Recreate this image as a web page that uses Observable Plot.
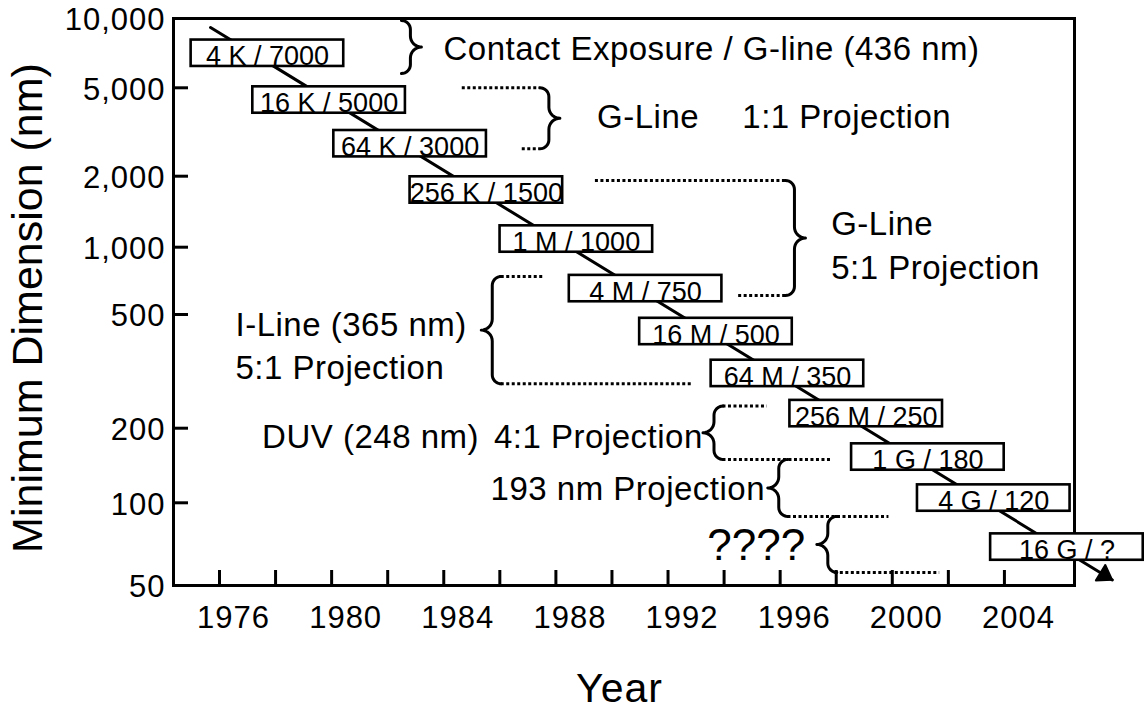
<!DOCTYPE html>
<html>
<head>
<meta charset="utf-8">
<script src="https://cdn.jsdelivr.net/npm/d3@7"></script>
<script src="https://cdn.jsdelivr.net/npm/@observablehq/plot@0.6"></script>
<style>
  html, body { margin: 0; padding: 0; background: #fff; }
  #chart { width: 1144px; height: 713px; }
</style>
</head>
<body>
<div id="chart"></div>
<script>
// ---------------- data ----------------
const xTickYears  = [1976, 1978, 1980, 1982, 1984, 1986, 1988, 1990, 1992, 1994, 1996, 1998, 2000, 2002, 2004];
const xLabelYears = [1976, 1980, 1984, 1988, 1992, 1996, 2000, 2004];
const yTickValues = [50, 100, 200, 500, 1000, 2000, 5000, 10000];

// DRAM generations (box labels) and where each box sits
const generations = ["4 K", "16 K", "64 K", "256 K", "1 M", "4 M", "16 M", "64 M", "256 M", "1 G", "4 G", "16 G"];
const dimensions  = ["7000", "5000", "3000", "1500", "1000", "750", "500", "350", "250", "180", "120", "?"];
const boxYear = [1977.71, 1979.91, 1982.80, 1985.52, 1988.73, 1991.20, 1993.71, 1996.26, 1999.07, 2001.27, 2003.62, 2006.23];
const boxNm   = [7064, 4405, 2801, 1748, 1083, 653, 436, 311, 225, 153, 104.5, 69];

// trend line (start and arrow tip)
const trendYear = [1975.68, 2007.85];
const trendNm   = [9140, 52.4];

// brackets: spine year, span top / bottom (nm), side of the tip
const braceName     = ["Contact", "G-Line 1:1", "G-Line 5:1", "I-Line", "DUV", "193 nm", "????"];
const braceYear     = [1982.81, 1987.75, 1996.51, 1985.73, 1993.64, 1995.95, 1997.70];
const braceTopNm    = [9802, 5000, 1918, 740, 239, 149.6, 89.2];
const braceBottomNm = [5767, 2657, 608, 286, 149.6, 89.2, 55.8];
const braceSide     = ["right", "right", "right", "left", "left", "left", "left"];

// dotted guide lines
const guideStartYear = [1984.66, 1986.80, 1989.41, 1994.52, 1986.05, 1986.05, 1993.96, 1993.96, 1996.28, 1997.95];
const guideEndYear   = [1987.43, 1987.43, 1996.19, 1996.19, 1987.57, 1992.87, 1995.54, 1997.80, 1999.88, 2001.69];
const guideNm        = [5000, 2657, 1918, 608, 740, 286, 239, 149.6, 89.2, 55.8];

// annotation texts
const noteText = ["Contact Exposure / G-line (436 nm)", "G-Line", "1:1 Projection", "G-Line", "5:1 Projection",
                  "I-Line (365 nm)", "5:1 Projection", "DUV (248 nm)", "4:1 Projection", "193 nm Projection"];
const noteYear = [1983.99, 1989.47, 1994.65, 1997.82, 1997.82, 1976.57, 1976.57, 1977.52, 1985.79, 1985.67];
const noteNm   = [7351, 3687, 3687, 1248, 807, 458, 325, 184, 184, 113];
const unknownText = ["????"];
const unknownYear = [1993.40];
const unknownNm   = [69.6];

const xTitle = "Year";
const yTitle = "Minimum Dimension (nm)";

// ---------------- scales ----------------
const W = 1144, H = 713;
const mLeft = 173, mRight = 70, mTop = 18, mBottom = 128;
const xOpts = {domain: [1974.359, 2006.50], range: [mLeft, W - mRight], label: null};
const yOpts = {type: "log", domain: yTickValues,
               range: [585, 502.3, 427.7, 314, 246.7, 175.7, 87.3, 18], label: null};
const sx = Plot.scale({x: xOpts});
const sy = Plot.scale({y: yOpts});

// ---------------- derived tables ----------------
const boxes = generations.map((g, i) => ({label: `${g} / ${dimensions[i]}`, year: boxYear[i], nm: boxNm[i]}));
const trend = trendYear.map((y, i) => ({year: y, nm: trendNm[i]}));
const guides = guideNm.map((v, i) => ({x1: guideStartYear[i], x2: guideEndYear[i], nm: v}));
const notes = noteText.map((t, i) => ({text: t, year: noteYear[i], nm: noteNm[i]}));
const unknown = unknownText.map((t, i) => ({text: t, year: unknownYear[i], nm: unknownNm[i]}));

function bracePoints(i) {
  const x = sx.apply(braceYear[i]);
  const yt = sy.apply(braceTopNm[i]);
  const yb = sy.apply(braceBottomNm[i]);
  const s = braceSide[i] === "right" ? 1 : -1;
  const rh = 9, rt = 11, ym = (yt + yb) / 2;
  const rel = [];
  const arc = (cx, cy, r, a0, a1) => {
    for (let k = 0; k <= 8; k++) {
      const a = (a0 + (a1 - a0) * k / 8) * Math.PI / 180;
      rel.push([cx + r * Math.cos(a), cy + r * Math.sin(a)]);
    }
  };
  arc(-rh, yt + rh, rh, -90, 0);
  arc(rt, ym - rt, rt, 180, 90);
  arc(rt, ym + rt, rt, 270, 180);
  arc(-rh, yb - rh, rh, 0, 90);
  return rel.map(([dx, y]) => ({brace: braceName[i], year: sx.invert(x + s * dx), nm: sy.invert(y)}));
}
const braces = braceName.flatMap((_, i) => bracePoints(i));

// arrowhead at the end of the trend line, built along the line's direction
function arrowHead() {
  const n = trend.length;
  const x0 = sx.apply(trend[n - 2].year), y0 = sy.apply(trend[n - 2].nm);
  const x1 = sx.apply(trend[n - 1].year), y1 = sy.apply(trend[n - 1].nm);
  const len = Math.hypot(x1 - x0, y1 - y0), ux = (x1 - x0) / len, uy = (y1 - y0) / len;
  const L = 14, hw = 9.5;
  const bx = x1 - L * ux, by = y1 - L * uy;
  const pts = [[x1, y1], [bx - hw * uy, by + hw * ux], [bx + hw * uy, by - hw * ux], [x1, y1]];
  return pts.map(([px, py]) => ({year: sx.invert(px), nm: sy.invert(py)}));
}
const head = arrowHead();

// ---------------- plot ----------------
const svg = Plot.plot({
  width: W, height: H,
  marginLeft: mLeft, marginRight: mRight, marginTop: mTop, marginBottom: mBottom,
  style: {fontFamily: "'Liberation Sans', Arial, Helvetica, sans-serif", background: "white", color: "black"},
  x: xOpts,
  y: yOpts,
  marks: [
    Plot.frame({stroke: "black", strokeWidth: 3}),
    // inward tick marks
    Plot.tickX(xTickYears, {x: d => d, insetTop: 552, stroke: "black", strokeWidth: 3}),
    Plot.tickY(yTickValues.filter(v => v !== 10000), {y: d => d, insetRight: 886, stroke: "black", strokeWidth: 3}),
    // tick labels
    Plot.axisX(xLabelYears, {tickSize: 0, tickPadding: 20, fontSize: 31, dx: 14, tickFormat: d => String(d), stroke: null}),
    Plot.axisY(yTickValues, {tickSize: 0, tickPadding: 8, fontSize: 31, dy: 2, tickFormat: d3.format(","), stroke: null}),
    // trend line with arrowhead
    Plot.line(trend, {x: "year", y: "nm", stroke: "black", strokeWidth: 3}),
    Plot.line(head, {x: "year", y: "nm", fill: "black", stroke: "black", strokeWidth: 1.5, strokeLinejoin: "miter"}),
    // generation boxes
    Plot.rect(boxes, {x1: "year", x2: "year", y1: "nm", y2: "nm",
      insetLeft: -76.3, insetRight: -76.3, insetTop: -13.2, insetBottom: -13.2,
      fill: "white", stroke: "black", strokeWidth: 2.6}),
    Plot.text(boxes, {x: "year", y: "nm", text: "label", fontSize: 27, dy: 3.5, fill: "black"}),
    // dotted guides
    Plot.ruleY(guides, {y: "nm", x1: "x1", x2: "x2", stroke: "black", strokeWidth: 3, strokeDasharray: "3,2.5"}),
    // braces
    Plot.line(braces, {x: "year", y: "nm", z: "brace", stroke: "black", strokeWidth: 3}),
    // notes
    Plot.text(notes, {x: "year", y: "nm", text: "text", textAnchor: "start", fontSize: 33, fill: "black"}),
    Plot.text(unknown, {x: "year", y: "nm", text: "text", textAnchor: "start", fontSize: 44, fill: "black"}),
    // axis titles
    Plot.text([xTitle], {frameAnchor: "bottom", textAnchor: "middle", lineAnchor: "middle", dx: -4.5, dy: 103, fontSize: 41, fill: "black"}),
    Plot.text([yTitle], {frameAnchor: "left", textAnchor: "middle", lineAnchor: "middle", rotate: -90, dx: -145, dy: 6, fontSize: 43, fill: "black"})
  ]
});

// letter spacing to mimic the wider lettering of the original
d3.select(svg).selectAll("g[font-size]").each(function() {
  const fs = +this.getAttribute("font-size");
  const ls = {31: 1, 33: 0.5, 41: 1}[fs];
  if (ls) this.setAttribute("letter-spacing", ls);
});

document.getElementById("chart").appendChild(svg);
</script>
</body>
</html>
